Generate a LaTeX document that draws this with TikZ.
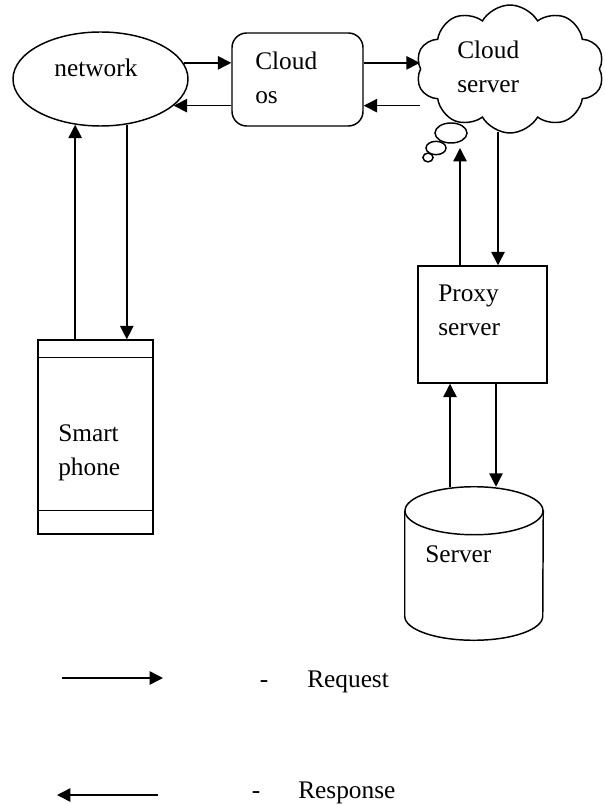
\documentclass[tikz,border=0pt]{standalone}
\usepackage{fontspec}
\setmainfont{Liberation Serif}
\usetikzlibrary{arrows.meta,shapes.geometric,shapes.symbols}

\begin{document}
\begin{tikzpicture}[x=0.75pt,y=-0.75pt,
    every node/.style={font=\fontsize{19}{25.5}\selectfont},
    blk/.style={draw,line width=1.1pt,inner sep=0pt},
    arr/.style={line width=1.1pt,-{Triangle[length=10pt,width=10pt]}},
    txt/.style={align=left,anchor=west,inner sep=0pt}]
      \useasboundingbox (0,0) rectangle (605,805);
      % shapes
      \node[blk,ellipse,minimum width=131.25pt,minimum height=70.5pt] (network) at (100.5,79) {};
      \node[blk,rectangle,rounded corners=11pt,minimum width=98.25pt,minimum height=69.75pt] (cloudos) at (297.5,79.5) {};
      \node[blk,cloud,cloud puffs=10,cloud puff arc=120,aspect=1.5,minimum width=141pt,minimum height=96pt] (cloud) at (510,69) {};
      \draw[line width=1.1pt,fill=white] (451,133) ellipse [x radius=12pt,y radius=7.5pt];
      \draw[line width=1.1pt,fill=white] (436,148) ellipse [x radius=7.5pt,y radius=5pt];
      \draw[line width=1.1pt,fill=white] (428,157.5) ellipse [x radius=3.8pt,y radius=3.3pt];
      \node[blk,rectangle,minimum width=86.25pt,minimum height=145.5pt] (phone) at (95.5,437) {};
      \draw[line width=1.1pt] ([yshift=-13.5pt]phone.north west) -- ([yshift=-13.5pt]phone.north east);
      \draw[line width=1.1pt] ([yshift=18pt]phone.south west) -- ([yshift=18pt]phone.south east);
      \node[blk,rectangle,minimum width=96.75pt,minimum height=87.75pt] (proxy) at (482.5,324.5) {};
      \node[inner sep=0pt,minimum width=103.5pt,minimum height=114.75pt] (server) at (474,563.5) {};
      \draw[line width=1.1pt] ([yshift=-18pt]server.north) ellipse [x radius=51.75pt,y radius=18pt];
      \draw[line width=1.1pt] ([yshift=-18pt]server.north west) -- ([yshift=18pt]server.south west)
            arc[start angle=180,end angle=360,x radius=51.75pt,y radius=18pt]
            -- ([yshift=-18pt]server.north east);
      % texts
      \node[anchor=base,inner sep=0pt] (nettxt) at (96,77) {network};
      \node[txt] (ostxt) at (255,78) {Cloud\\os};
      \node[txt] (cloudtxt) at (457,66.5) {Cloud\\server};
      \node[txt] (phonetxt) at (58,453) {Smart\\phone};
      \node[txt] (proxytxt) at (438,310) {Proxy\\server};
      \node[anchor=base west,inner sep=0pt] (servertxt) at (425,562) {Server};
      % connectors
      \draw[arr] (network.11) -- (network.11 -| cloudos.west);
      \draw[arr] (network.11 -| cloudos.east) -- (network.11 -| cloud.west);
      \draw[arr] (cloudos.west |- network.-20) -- (network.-20);
      \draw[arr] (cloud.west |- network.-20) -- (cloudos.east |- network.-20);
      \draw[arr] (network.-119 |- phone.north) -- (network.-119);
      \draw[arr] (network.-60) -- (network.-60 |- phone.north);
      \coordinate (thought) at (460,148);
      \coordinate (down) at (498,132);
      \draw[arr] (thought |- proxy.north) -- (thought);
      \draw[arr] (down) -- (down |- proxy.north);
      \draw[arr] ([xshift=-18pt]server.north) -- ([xshift=-18pt]server.north |- proxy.south);
      \draw[arr] ([xshift=16.5pt]server.north |- proxy.south) -- ([xshift=16.5pt]server.north);
      % key
      \coordinate (reqa) at (62,678);
      \coordinate (reqb) at (163,678);
      \coordinate (resa) at (158,795);
      \coordinate (resb) at (57,795);
      \draw[arr] (reqa) -- (reqb);
      \draw[arr] (resa) -- (resb);
      \node[anchor=base,inner sep=0pt] (reqdash) at (264,687) {-};
      \node[anchor=base west,inner sep=0pt] (reqtxt) at (307,687) {Request};
      \node[anchor=base,inner sep=0pt] (resdash) at (256,798) {-};
      \node[anchor=base west,inner sep=0pt] (restxt) at (298,798) {Response};
    \end{tikzpicture}
\end{document}
